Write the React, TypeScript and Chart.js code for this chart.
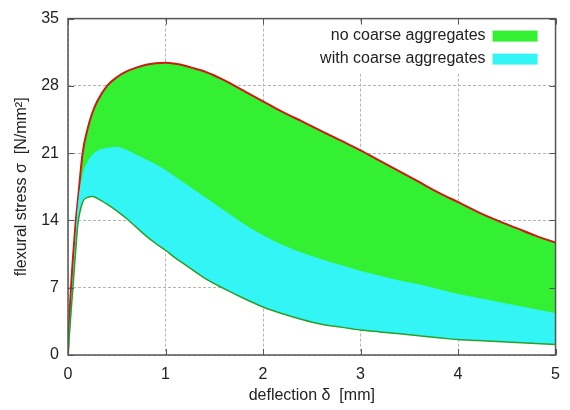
import React, { useEffect, useRef } from "react";
import { Chart, registerables } from "chart.js";

Chart.register(...registerables);

// deflection δ [mm]
const deflection = [0, 0.02, 0.05, 0.08, 0.1, 0.15, 0.2, 0.25, 0.3, 0.4, 0.5, 0.6, 0.7, 0.8, 0.9, 1.0, 1.1, 1.2, 1.3, 1.4, 1.6, 1.8, 2.0, 2.2, 2.4, 2.6, 2.8, 3.0, 3.2, 3.4, 3.6, 3.8, 4.0, 4.2, 4.4, 4.6, 4.8, 5.0];
// upper envelope, no coarse aggregates (red line)
const noCoarseUpper = [0, 5, 10, 14, 16, 21, 23.5, 25.2, 26.4, 28.0, 28.9, 29.5, 29.9, 30.2, 30.35, 30.4, 30.3, 30.1, 29.8, 29.5, 28.6, 27.5, 26.4, 25.3, 24.3, 23.3, 22.3, 21.3, 20.2, 19.1, 18.0, 16.9, 15.9, 14.9, 14.0, 13.2, 12.4, 11.7];
// upper envelope, with coarse aggregates (cyan top)
const withCoarseUpper = [0, 3, 7.5, 12, 15, 18.6, 20.0, 20.8, 21.2, 21.5, 21.6, 21.3, 20.8, 20.3, 19.8, 19.2, 18.5, 17.8, 17.1, 16.4, 15.0, 13.6, 12.4, 11.4, 10.6, 9.9, 9.3, 8.7, 8.2, 7.7, 7.3, 6.8, 6.3, 5.9, 5.5, 5.1, 4.7, 4.3];
// lower envelope (green line)
const lowerEnvelope = [0, 3, 7, 11, 13.5, 15.9, 16.4, 16.5, 16.3, 15.7, 15.0, 14.2, 13.3, 12.4, 11.6, 10.9, 10.1, 9.4, 8.7, 8.0, 6.9, 5.9, 5.0, 4.3, 3.7, 3.2, 2.9, 2.6, 2.4, 2.2, 2.0, 1.8, 1.6, 1.5, 1.4, 1.3, 1.2, 1.1];

const legendLabels = ["no coarse aggregates", "with coarse aggregates"];
const legendColors = ["#33f033", "#33f5f5"];
const xTickValues = [0, 1, 2, 3, 4, 5];
const yTickValues = [0, 7, 14, 21, 28, 35];

const FONT = "'Liberation Sans', Arial, sans-serif";
const TEXT = "#222";

const toPoints = (ys: number[]) => deflection.map((x, i) => ({ x, y: ys[i] }));

const framePlugin = {
  id: "frame",
  afterDatasetsDraw(chart: any) {
    const { ctx, chartArea, scales } = chart;
    const { left, right, top, bottom } = chartArea;
    ctx.save();
    // legend background
    ctx.fillStyle = "#fff";
    ctx.fillRect(right - 242, top + 5, 232, 50);
    // inward tick marks
    ctx.strokeStyle = "#555";
    ctx.lineWidth = 1;
    ctx.beginPath();
    for (const v of xTickValues) {
      const px = Math.round(scales.x.getPixelForValue(v)) + 0.5;
      ctx.moveTo(px, bottom);
      ctx.lineTo(px, bottom - 6);
      ctx.moveTo(px, top);
      ctx.lineTo(px, top + 6);
    }
    for (const v of yTickValues) {
      const py = Math.round(scales.y.getPixelForValue(v)) + 0.5;
      ctx.moveTo(left, py);
      ctx.lineTo(left + 6, py);
      ctx.moveTo(right, py);
      ctx.lineTo(right - 6, py);
    }
    ctx.stroke();
    // frame
    ctx.lineWidth = 1.5;
    ctx.strokeStyle = "#555";
    ctx.strokeRect(left, top, right - left, bottom - top);
    // legend
    ctx.font = `16px ${FONT}`;
    ctx.textAlign = "right";
    ctx.textBaseline = "middle";
    legendLabels.forEach((lab, i) => {
      const cy = top + 17 + i * 23;
      ctx.fillStyle = TEXT;
      ctx.fillText(lab, right - 70, cy);
      ctx.fillStyle = legendColors[i];
      ctx.fillRect(right - 63, cy - 5, 45, 11);
    });
    ctx.restore();
  },
};

export default function App() {
  const ref = useRef<HTMLCanvasElement | null>(null);
  useEffect(() => {
    document.body.style.margin = "0";
    const canvas = ref.current!;
    const chart = new Chart(canvas, {
      type: "line",
      data: {
        datasets: [
          {
            label: "lower",
            data: toPoints(lowerEnvelope),
            borderColor: "#2aa02a",
            borderWidth: 1.5,
            pointRadius: 0,
            fill: false,
            cubicInterpolationMode: "monotone",
          },
          {
            label: legendLabels[1],
            data: toPoints(withCoarseUpper),
            borderColor: legendColors[1],
            backgroundColor: legendColors[1],
            borderWidth: 1,
            pointRadius: 0,
            fill: 0,
            cubicInterpolationMode: "monotone",
          },
          {
            label: legendLabels[0],
            data: toPoints(noCoarseUpper),
            borderColor: "#cc1a12",
            backgroundColor: legendColors[0],
            borderWidth: 2,
            pointRadius: 0,
            fill: 0,
            cubicInterpolationMode: "monotone",
          },
        ],
      },
      options: {
        animation: false,
        responsive: false,
        layout: { padding: { top: 15, right: 9, left: 0, bottom: 0 } },
        plugins: { legend: { display: false }, tooltip: { enabled: false } },
        scales: {
          x: {
            type: "linear",
            min: 0,
            max: 5,
            afterFit: (s: any) => {
              s.height = 55;
            },
            ticks: { stepSize: 1, padding: 10, color: TEXT, font: { size: 16, family: FONT } },
            grid: { color: "#b4b4b4", drawTicks: false, lineWidth: 1 },
            border: { display: false, dash: [3, 2] },
            title: {
              display: true,
              text: "deflection δ  [mm]",
              color: TEXT,
              font: { size: 16, family: FONT },
              padding: { top: 0, bottom: 5 },
            },
          },
          y: {
            type: "linear",
            min: 0,
            max: 35,
            afterFit: (s: any) => {
              s.width = 68;
            },
            ticks: { stepSize: 7, padding: 9, color: TEXT, font: { size: 16, family: FONT } },
            grid: { color: "#b4b4b4", drawTicks: false, lineWidth: 1 },
            border: { display: false, dash: [3, 2] },
            title: {
              display: true,
              text: "flexural stress σ  [N/mm²]",
              color: TEXT,
              font: { size: 16, family: FONT },
              padding: { top: 12, bottom: 0 },
            },
          },
        },
      },
      plugins: [framePlugin],
    });
    return () => chart.destroy();
  }, []);
  return (
    <div style={{ width: 570, height: 410 }}>
      <canvas ref={ref} width={570} height={410} />
    </div>
  );
}
